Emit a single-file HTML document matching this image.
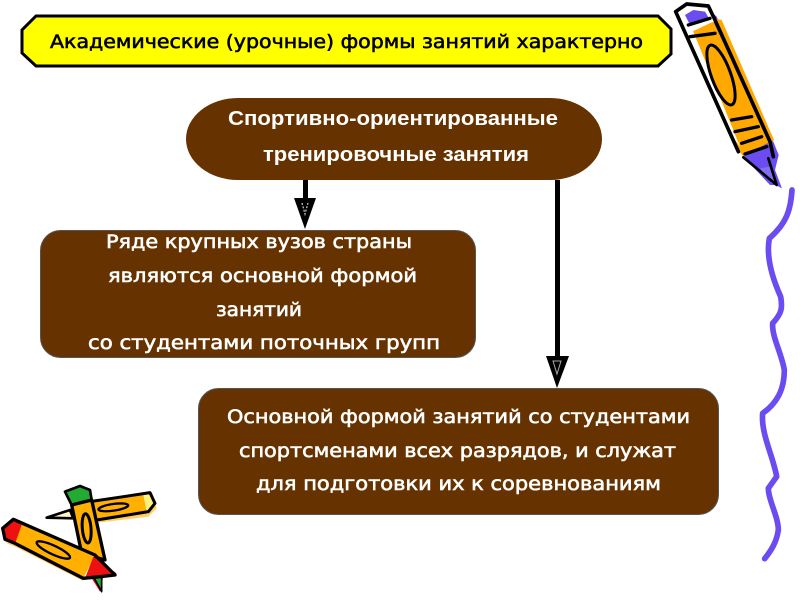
<!DOCTYPE html>
<html><head><meta charset="utf-8"><style>
html,body{margin:0;padding:0;background:#fff;width:800px;height:600px;overflow:hidden}
svg{display:block}
.c{font-family:"DejaVu Sans","Liberation Sans",sans-serif;font-weight:normal;font-size:19px;fill:#fff;stroke:#fff;stroke-width:.6px}
.a{font-family:"Liberation Sans",sans-serif;font-weight:bold;font-size:20.5px;fill:#fff}
</style></head><body>
<svg width="800" height="600" viewBox="0 0 800 600" xmlns="http://www.w3.org/2000/svg">
<rect width="800" height="600" fill="#fff"/>
<polygon points="36,16 658,16 671,29 671,54 658,66 36,66 22,53 22,30" fill="#ffff00" stroke="#000" stroke-width="3"/>
<text class="c" x="50" y="48" textLength="593" lengthAdjust="spacingAndGlyphs" style="fill:#000;stroke:#000">Академические (урочные) формы занятий характерно</text>

<rect x="186" y="98" width="416" height="82" rx="52" ry="41" fill="#663300"/>
<text class="a" x="228" y="125" textLength="330" lengthAdjust="spacingAndGlyphs">Спортивно-ориентированные</text>
<text class="a" x="263" y="161" textLength="266" lengthAdjust="spacingAndGlyphs">тренировочные занятия</text>

<rect x="40.500" y="230.500" width="435" height="127" rx="20" fill="#663300" stroke="#555" stroke-width="1"/>
<text class="c" x="106" y="248" textLength="306" lengthAdjust="spacingAndGlyphs">Ряде крупных вузов страны</text>
<text class="c" x="108" y="282" textLength="309" lengthAdjust="spacingAndGlyphs">являются основной формой</text>
<text class="c" x="216" y="316" textLength="86" lengthAdjust="spacingAndGlyphs">занятий</text>
<text class="c" x="88" y="349" textLength="352" lengthAdjust="spacingAndGlyphs">со студентами поточных групп</text>

<rect x="198.500" y="388.500" width="520" height="126" rx="20" fill="#663300" stroke="#555" stroke-width="1"/>
<text class="c" x="227" y="423" textLength="463" lengthAdjust="spacingAndGlyphs">Основной формой занятий со студентами</text>
<text class="c" x="239" y="457" textLength="437" lengthAdjust="spacingAndGlyphs">спортсменами всех разрядов, и служат</text>
<text class="c" x="256" y="490" textLength="405" lengthAdjust="spacingAndGlyphs">для подготовки их к соревнованиям</text>

<rect x="303" y="180" width="5" height="20" fill="#000"/>
<polygon points="294,198 316,198 305,229" fill="#000"/>
<path d="M302,203 L305,214 L308,203" fill="none" stroke="#ccc" stroke-width="1.200" stroke-dasharray="2 1.500"/>
<rect x="555" y="180" width="5" height="178" fill="#000"/>
<polygon points="546,356 569,356 557,388" fill="#000"/>
<path d="M553,361 L557,374 L561,361 Z" fill="none" stroke="#aaa" stroke-width="1"/>

<!-- large pencil -->
<g transform="translate(660,0) scale(0.33333)" stroke-linejoin="round" stroke-linecap="round">
<polygon points="148,30 170,50 340,425 356,465 345,510 366,565 320,540" fill="#6a4cf0"/>
<polygon points="165,55 185,60 342,420 325,435" fill="#ffa800"/>
<polygon points="47,35 80,12 145,18 165,65 85,105" fill="#fff"/>
<polygon points="85,100 160,65 330,425 250,470 235,450" fill="#ffa800"/>
<polygon points="60,60 100,95 240,440 225,420" fill="#fff"/>
<polygon points="75,45 100,30 135,35 150,60 90,75" fill="#6a4cf0"/>
<polygon points="250,470 320,440 335,520 355,555 330,555" fill="#6a4cf0"/>
<polygon points="300,505 330,500 345,550 335,550" fill="#8070f0"/>
<path d="M47,35 L80,12 L145,18 L165,60 L330,425 L340,470 M47,35 L235,455" fill="none" stroke="#000" stroke-width="11"/>
<path d="M250,472 L350,555 L325,475" fill="none" stroke="#000" stroke-width="8"/>
<path d="M85,75 L150,55 M90,110 L165,100 M215,360 L275,350 M225,395 L295,380 M245,430 L305,410 M255,462 L320,440" fill="none" stroke="#000" stroke-width="10"/>
<ellipse cx="183" cy="225" rx="29" ry="95" transform="rotate(-20 183 225)" fill="none" stroke="#000" stroke-width="9"/>
</g>
<!-- squiggle -->
<g transform="translate(740,180) scale(0.33333)">
<path fill="none" stroke="#6a4cf0" stroke-width="17" stroke-linejoin="round" stroke-linecap="round" d="M156,30 C152,90 140,130 88,175 C78,230 95,290 122,350 C128,385 125,400 98,430 C95,470 125,520 133,570 C133,630 110,670 68,700 C62,760 100,830 110,890 L85,925 C85,960 115,1010 115,1050 C110,1085 95,1110 74,1136"/>
</g>
<!-- small pencils -->
<g transform="translate(0,480) scale(0.33333)" stroke-linejoin="round" stroke-linecap="round">
<polygon points="290,75 455,45 470,85 445,110 295,128" fill="#ffd060"/>
<polygon points="280,65 455,40 462,80 440,100 290,120" fill="#ffb000"/>
<polygon points="430,45 458,40 465,75 440,95" fill="#fff080"/>
<path d="M270,65 L450,38 L465,70 L445,95 L290,120" fill="none" stroke="#000" stroke-width="9"/>
<ellipse cx="340" cy="82" rx="45" ry="10" transform="rotate(-8 340 82)" fill="none" stroke="#000" stroke-width="7"/>
<polygon points="140,113 210,90 220,115" fill="#fff8c0" stroke="#000" stroke-width="8"/>
<polygon points="195,35 240,18 270,30 275,60 215,75" fill="#22aa33" stroke="#000" stroke-width="8"/>
<polygon points="215,75 275,60 315,240 245,220" fill="#ffb000" stroke="#000" stroke-width="10"/>
<ellipse cx="260" cy="145" rx="13" ry="44" transform="rotate(-5 260 145)" fill="none" stroke="#000" stroke-width="9"/>
<polygon points="15,188 45,200 250,303 245,295 45,190" fill="#ffd060"/>
<polygon points="45,190 250,295 285,225 40,118" fill="#ffb000"/>
<polygon points="40,118 65,135 45,192 15,180 8,145" fill="#ee1111"/>
<polygon points="255,295 280,230 350,280 310,290 300,335 275,295" fill="#ee1111"/>
<polygon points="280,290 305,290 305,335" fill="#22aa33" stroke="#000" stroke-width="5"/>
<path d="M8,145 L40,118 L285,225 L345,285 L300,290 L250,295 L45,190 L15,178 Z" fill="none" stroke="#000" stroke-width="10"/>
<ellipse cx="160" cy="210" rx="55" ry="13" transform="rotate(25 160 210)" fill="none" stroke="#000" stroke-width="7"/>
</g>
</svg>
</body></html>
